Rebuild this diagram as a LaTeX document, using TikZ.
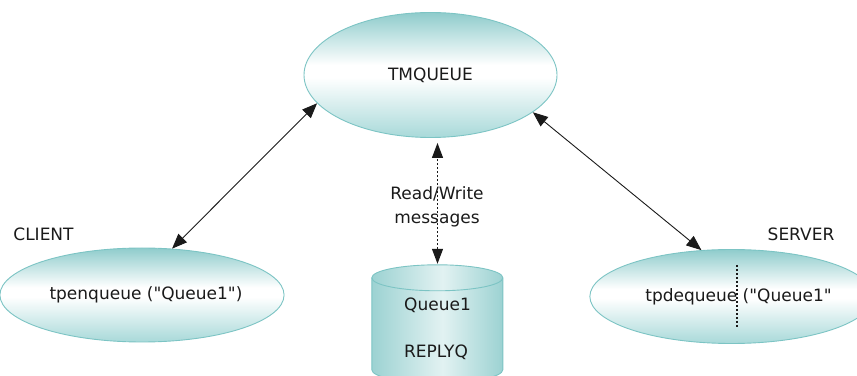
\documentclass[tikz,border=0pt]{standalone}
\usepackage{fontspec}
\setmainfont{DejaVu Sans}
\usetikzlibrary{shapes.geometric,arrows.meta}
\definecolor{edgeteal}{HTML}{7CC4C4}
\definecolor{topteal}{HTML}{8FCCCC}
\definecolor{botteal}{HTML}{A8D9D9}
\definecolor{sideteal}{HTML}{9CD2D2}
\definecolor{midteal}{HTML}{E2F2F2}
\definecolor{txt}{HTML}{1A1A1A}
\pgfdeclareverticalshading{ellshade}{100bp}{color(0bp)=(botteal); color(25bp)=(botteal); color(49bp)=(white); color(54bp)=(white); color(75bp)=(topteal); color(100bp)=(topteal)}
\pgfdeclarehorizontalshading{cylshade}{100bp}{color(0bp)=(sideteal); color(25bp)=(sideteal); color(52bp)=(midteal); color(75bp)=(sideteal); color(100bp)=(sideteal)}
\tikzset{
  ell/.style={ellipse, draw=edgeteal, line width=0.9pt, shading=ellshade, inner sep=0pt, text=txt},
  lbl/.style={text=txt, inner sep=0pt},
  biarrow/.style={{Triangle[length=15pt,width=12pt]}-{Triangle[length=15pt,width=12pt]}, line width=0.9pt, draw=txt},
  dotarrow/.style={{Triangle[length=15pt,width=11pt]}-{Triangle[length=15pt,width=11pt]}, line width=1.1pt, dash pattern=on 2pt off 2pt, draw=txt},
}
\begin{document}
\begin{tikzpicture}[x=1pt,y=1pt,font=\fontsize{17}{24}\selectfont]
\useasboundingbox (0,0) rectangle (857,375);
% ellipses
\node[ell, minimum width=253, minimum height=125] (tm) at (430.5,300) {TMQUEUE};
\node[ell, minimum width=264, minimum height=94] (cl) at (142,80) {\hspace*{8pt}tpenqueue (\textquotedbl Queue1\textquotedbl)};
\node[ell, minimum width=249, minimum height=94] (sv) at (731.5,78.5) {\hspace*{14pt}tpdequeue (\textquotedbl Queue1\textquotedbl};
% cylinder
\node[minimum width=131, minimum height=108, inner sep=0pt] (db) at (437.5,56) {};
\path[shading=cylshade, draw=edgeteal, line width=0.9pt]
  (db.north west) ++(0,-13) -- ++(0,-92) arc[start angle=180, end angle=360, x radius=65.5, y radius=13]
  -- ++(0,92) arc[start angle=0, end angle=180, x radius=65.5, y radius=13] -- cycle;
\draw[edgeteal, line width=0.9pt] (db.north west) ++(0,-13) arc[start angle=180, end angle=360, x radius=65.5, y radius=13];
\node[lbl] (q1) at (437.5,70) {Queue1};
\node[lbl] (rq) at (436,23) {REPLYQ};
% labels
\node[lbl] (client) at (43.5,141) {CLIENT};
\node[lbl] (server) at (801,141) {SERVER};
% connectors
\draw[biarrow] (cl.57) -- (tm.194);
\draw[biarrow] (sv.123) -- (tm.340);
\draw[dotarrow, shorten <=1pt, shorten >=5pt] (db.north) -- (db.north |- tm.south);
\node[lbl, align=center] (rw) at (437,168) {Read/Write\\messages};
% dotted mark in server ellipse
\draw[dash pattern=on 2pt off 2pt, line width=1.2pt, txt] (sv.center) ++(5.5,31.5) -- ++(0,-62);
\end{tikzpicture}
\end{document}
